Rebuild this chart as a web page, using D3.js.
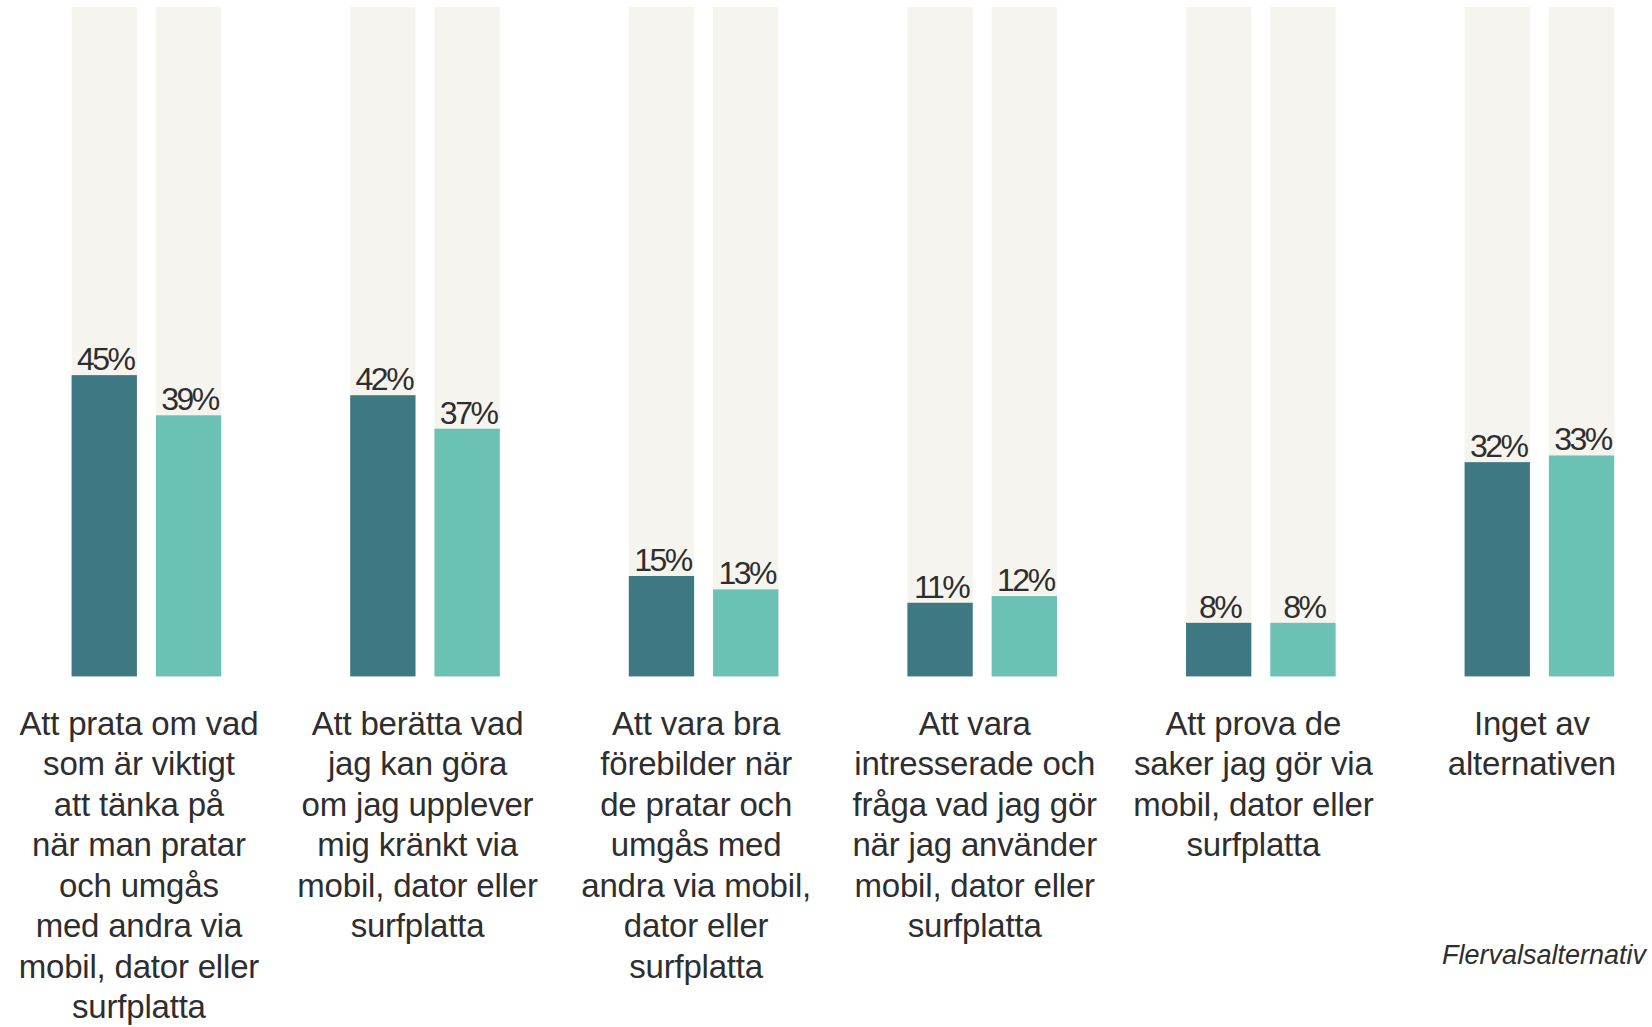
<!DOCTYPE html>
<html lang="sv">
<head>
<meta charset="utf-8">
<title>Flervalsalternativ</title>
<script src="https://cdn.jsdelivr.net/npm/d3@7"></script>
<style>
  body { margin: 0; background: #ffffff; }
  text { font-family: "Liberation Sans", Arial, sans-serif; fill: #2e2e2e; }
</style>
</head>
<body>
<svg id="chart"></svg>
<script>
// data
var categories = [
    ["Att prata om vad", "som är viktigt", "att tänka på", "när man pratar", "och umgås", "med andra via", "mobil, dator eller", "surfplatta"],
    ["Att berätta vad", "jag kan göra", "om jag upplever", "mig kränkt via", "mobil, dator eller", "surfplatta"],
    ["Att vara bra", "förebilder när", "de pratar och", "umgås med", "andra via mobil,", "dator eller", "surfplatta"],
    ["Att vara", "intresserade och", "fråga vad jag gör", "när jag använder", "mobil, dator eller", "surfplatta"],
    ["Att prova de", "saker jag gör via", "mobil, dator eller", "surfplatta"],
    ["Inget av", "alternativen"]
];
var seriesA = [45, 42, 15, 11, 8, 32];
var seriesB = [39, 37, 13, 12, 8, 33];
var seriesNames = ["a", "b"];
var colours = ["#3e7883", "#6bc1b3"];
var note = "Flervalsalternativ";

var width = 1652;
var height = 1027;

var svg = d3.select("#chart")
    .attr("width", width)
    .attr("height", height);

var idx = d3.range(categories.length);

var x0 = d3.scaleBand()
    .domain(idx)
    .range([71.6, 1614.2])
    .paddingInner(0.463)
    .paddingOuter(0);

var x1 = d3.scaleBand()
    .domain(seriesNames)
    .range([0, x0.bandwidth()])
    .paddingInner(0.225);

var y = d3.scaleLinear()
    .domain([0, 100])
    .range([676.4, 6.9]);

var colour = d3.scaleOrdinal().domain(seriesNames).range(colours);

var rows = idx.map(function(i){
    return { i: i, values: [
        { key: "a", value: seriesA[i] },
        { key: "b", value: seriesB[i] }
    ]};
});

var groups = svg.selectAll("g.group")
    .data(rows)
    .enter()
    .append("g")
    .attr("class", "group")
    .attr("transform", d => "translate(" + x0(d.i) + ",0)");

// 100% background bars
groups.selectAll("rect.bg")
    .data(d => d.values)
    .enter()
    .append("rect")
    .attr("class", "bg")
    .attr("x", d => x1(d.key))
    .attr("width", x1.bandwidth())
    .attr("y", y(100))
    .attr("height", y(0) - y(100))
    .attr("fill", "#f6f4ee");

groups.selectAll("rect.bar")
    .data(d => d.values)
    .enter()
    .append("rect")
    .attr("class", "bar")
    .attr("x", d => x1(d.key))
    .attr("width", x1.bandwidth())
    .attr("y", d => y(d.value))
    .attr("height", d => y(0) - y(d.value))
    .attr("fill", d => colour(d.key));

groups.selectAll("text.val")
    .data(d => d.values)
    .enter()
    .append("text")
    .attr("class", "val")
    .attr("x", d => x1(d.key) + x1.bandwidth() / 2 + 1)
    .attr("y", d => y(d.value) - 5)
    .attr("text-anchor", "middle")
    .style("font-size", "32px")
    .style("letter-spacing", "-2.5px")
    .text(d => d.value + "%");

// category labels
var labels = groups.append("text")
    .attr("class", "cat")
    .attr("text-anchor", "middle")
    .style("font-size", "33px")
    .style("letter-spacing", "-0.2px")
    .attr("transform", "translate(" + (x0.bandwidth() / 2 - 7.5) + ",734.5)");

labels.selectAll("tspan")
    .data(d => categories[d.i])
    .enter()
    .append("tspan")
    .attr("x", 0)
    .attr("y", (d, j) => j * 40.5)
    .text(d => d);

svg.append("text")
    .attr("x", 1646)
    .attr("y", 964)
    .attr("text-anchor", "end")
    .style("font-size", "27px")
    .style("font-style", "italic")
    .text(note);
</script>
</body>
</html>
